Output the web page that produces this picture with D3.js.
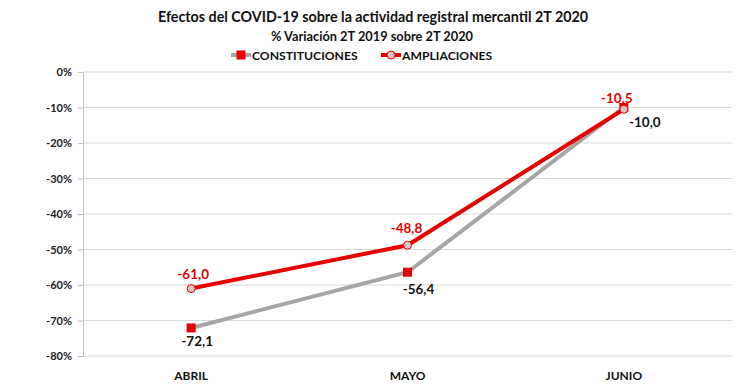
<!DOCTYPE html>
<html><head><meta charset="utf-8">
<script src="https://cdn.jsdelivr.net/npm/d3@7"></script>
<style>body{margin:0;background:#fff}svg{display:block;font-family:Lato,"Open Sans",sans-serif}</style>
</head><body>
<svg id="c" width="747" height="388"></svg>
<script>
const categories = ["ABRIL", "MAYO", "JUNIO"];
const constituciones = [-72.1, -56.4, -10.0];
const ampliaciones = [-61.0, -48.8, -10.5];
const yTicks = [0, -10, -20, -30, -40, -50, -60, -70, -80];
const seriesNames = ["CONSTITUCIONES", "AMPLIACIONES"];

const svg = d3.select("#c");
const m = {l: 83, r: 732, t: 72, b: 356};
const x = d3.scaleBand().domain(categories).range([m.l, m.r]);
const y = d3.scaleLinear().domain([-80, 0]).range([m.b, m.t]);
const cx = d => x(d) + x.bandwidth() / 2;
const fmt = v => d3.format(".1f")(v).replace(".", ",").replace("−", "-");

// gridlines
svg.append("g").selectAll("line").data(yTicks).join("line")
  .attr("x1", m.l).attr("x2", m.r).attr("y1", d => y(d)).attr("y2", d => y(d))
  .attr("stroke", "#d9d9d9").attr("stroke-width", 1);
// y axis
const ya = svg.append("g").attr("transform", `translate(${m.l},0)`)
  .call(d3.axisLeft(y).tickValues(yTicks).tickSize(5).tickPadding(6).tickFormat(d => d + "%"));
ya.select(".domain").attr("stroke", "#bfbfbf");
ya.selectAll(".tick line").attr("stroke", "#bfbfbf");
ya.selectAll("text").attr("font-size", 11).attr("font-weight", "bold").attr("fill", "#222").attr("font-family", "Lato");

// x labels
svg.append("g").selectAll("text").data(categories).join("text")
  .attr("x", d => cx(d)).attr("y", 380).attr("text-anchor", "middle")
  .attr("font-size", 12).attr("font-weight", "bold").attr("fill", "#111").text(d => d);

const grey = "#a6a6a6", red = "#e60000";
const line = d3.line().x((d, i) => cx(categories[i])).y(d => y(d));
svg.append("path").datum(constituciones).attr("d", line).attr("fill", "none")
  .attr("stroke", grey).attr("stroke-width", 4);
svg.append("path").datum(ampliaciones).attr("d", line).attr("fill", "none")
  .attr("stroke", red).attr("stroke-width", 4);

// markers
svg.append("g").selectAll("rect").data(constituciones).join("rect")
  .attr("x", (d, i) => cx(categories[i]) - 4.5).attr("y", d => y(d) - 4.5)
  .attr("width", 9).attr("height", 9).attr("fill", red);
svg.append("g").selectAll("circle").data(ampliaciones).join("circle")
  .attr("cx", (d, i) => cx(categories[i])).attr("cy", d => y(d)).attr("r", 4)
  .attr("fill", "#d8c4c4").attr("stroke", red).attr("stroke-width", 1);

// data labels
const cOff = [[6, 18], [11, 22], [21, 19]];
svg.append("g").selectAll("text").data(constituciones).join("text")
  .attr("x", (d, i) => cx(categories[i]) + cOff[i][0]).attr("y", (d, i) => y(d) + cOff[i][1])
  .attr("text-anchor", "middle").attr("font-size", 13.5).attr("font-weight", "bold").attr("fill", "#111")
  .text(d => fmt(d));
const aOff = [[2, -10], [-1, -12], [-7, -6]];
svg.append("g").selectAll("text").data(ampliaciones).join("text")
  .attr("x", (d, i) => cx(categories[i]) + aOff[i][0]).attr("y", (d, i) => y(d) + aOff[i][1])
  .attr("text-anchor", "middle").attr("font-size", 13.5).attr("font-weight", "bold").attr("fill", red)
  .text(d => fmt(d));

// titles
svg.append("text").attr("x", 373).attr("y", 22).attr("text-anchor", "middle")
  .attr("font-size", 14.3).attr("font-weight", "bold").attr("fill", "#111")
  .text("Efectos del COVID-19 sobre la actividad registral mercantil 2T 2020");
svg.append("text").attr("x", 372).attr("y", 41).attr("text-anchor", "middle")
  .attr("font-size", 12.8).attr("font-weight", "bold").attr("fill", "#111")
  .text("% Variación 2T 2019 sobre 2T 2020");

// legend
const lg = svg.append("g");
const items = [{x: 231, c: grey, mk: "rect"}, {x: 381, c: red, mk: "circle"}];
items.forEach((it, i) => {
  lg.append("line").attr("x1", it.x).attr("x2", it.x + 20).attr("y1", 55).attr("y2", 55)
    .attr("stroke", it.c).attr("stroke-width", 4);
  if (it.mk === "rect") lg.append("rect").attr("x", it.x + 5.5).attr("y", 50.5).attr("width", 9).attr("height", 9).attr("fill", red);
  else lg.append("circle").attr("cx", it.x + 10).attr("cy", 55).attr("r", 4).attr("fill", "#d8c4c4").attr("stroke", red);
  lg.append("text").attr("x", it.x + 21).attr("y", 59.5).attr("font-size", 12.2).attr("font-weight", "bold")
    .attr("fill", "#111").text(seriesNames[i]);
});
</script>
</body></html>
